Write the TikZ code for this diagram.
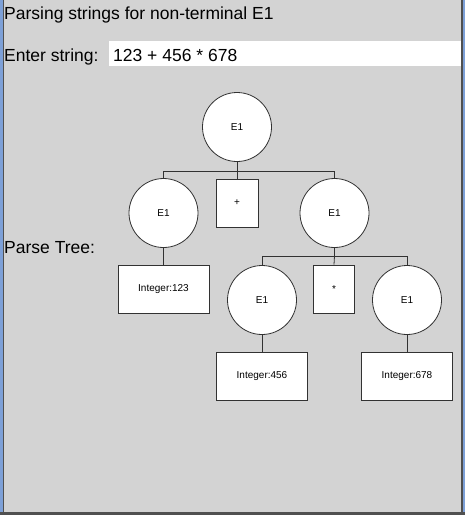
\documentclass[tikz,border=0pt]{standalone}
\usepackage{fontspec}
\setmainfont{Liberation Sans}
\definecolor{panel}{RGB}{211,211,211}
\definecolor{edgeblue}{RGB}{125,160,215}
\definecolor{framedark}{RGB}{80,80,80}
\definecolor{linegray}{RGB}{50,50,50}
\tikzset{
  nt/.style={circle, draw=linegray, fill=white, line width=0.8pt, minimum size=69pt, inner sep=0pt, font=\fontsize{10}{12}\selectfont},
  term/.style={rectangle, draw=linegray, fill=white, line width=0.8pt, inner sep=0pt, font=\fontsize{10}{12}\selectfont},
  edge/.style={draw=linegray, line width=0.8pt},
  label/.style={anchor=base west, inner sep=0pt, font=\fontsize{17.5}{20}\selectfont}
}
\begin{document}
\begin{tikzpicture}[x=1pt,y=-1pt]
\useasboundingbox (0,0) rectangle (465,515);
\fill[panel] (0,0) rectangle (465,515);
% window frame
\fill[edgeblue] (0,0) rectangle (2.5,515);
\fill[edgeblue] (462.5,0) rectangle (465,515);
\fill[framedark] (2.5,0) rectangle (3.5,515);
\fill[framedark] (460.5,0) rectangle (462.5,515);
\fill[framedark] (0,512) rectangle (465,515);
% header texts
\node[label] (title) at (4,19) {Parsing strings for non-terminal E1};
\node[label] (enter) at (4,61) {Enter string:};
\fill[white] (109,41) rectangle (460.5,66);
\node[label] (input) at (113,61) {123 + 456 * 678};
\node[label] (ptree) at (4,253) {Parse Tree:};
% tree nodes
\node[nt] (root) at (237,127) {E1};
\node[nt] (l) at (163.5,213) {E1};
\node[term, minimum width=42pt, minimum height=48pt] (plus) at (237,203) {+};
\node[nt] (r) at (334.5,213) {E1};
\node[term, minimum width=91pt, minimum height=48pt] (i123) at (163.5,289) {Integer:123};
\node[nt] (rl) at (262,300) {E1};
\node[term, minimum width=41pt, minimum height=48pt] (times) at (334,289) {*};
\node[nt] (rr) at (407,300) {E1};
\node[term, minimum width=91pt, minimum height=48pt] (i456) at (262,376) {Integer:456};
\node[term, minimum width=91pt, minimum height=48pt] (i678) at (407,376) {Integer:678};
% connectors
\coordinate (b1) at (root.south |- 0,171);
\draw[edge] (root.south) -- (b1);
\draw[edge] (l.north) |- (b1);
\draw[edge] (r.north) |- (b1);
\draw[edge] (b1) -- (plus.north);
\coordinate (b2) at (r.south |- 0,256);
\draw[edge] (r.south) -- (b2);
\draw[edge] (rl.north) |- (b2);
\draw[edge] (rr.north) |- (b2);
\draw[edge] (b2) -- (times.north);
\draw[edge] (l.south) -- (i123.north);
\draw[edge] (rl.south) -- (i456.north);
\draw[edge] (rr.south) -- (i678.north);
\end{tikzpicture}
\end{document}
